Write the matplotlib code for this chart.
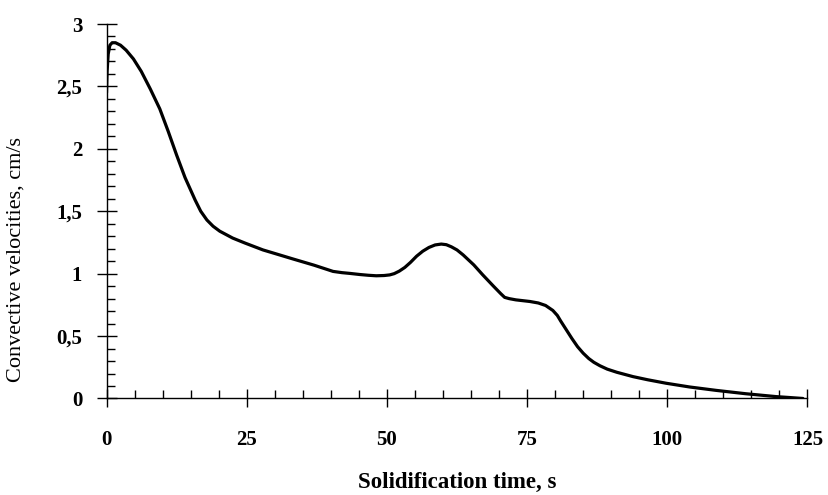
import matplotlib
matplotlib.use("Agg")
import matplotlib.pyplot as plt
from matplotlib.ticker import MultipleLocator, FixedLocator

# Convective velocity during solidification
time_s = [0.0, 0.1, 0.3, 0.6, 1.0, 1.6, 2.5, 3.5, 4.8, 6.2, 7.8, 9.5, 11.0, 12.5,
          14.0, 15.0, 15.8, 16.8, 17.9, 19.0, 20.2, 22.5, 24.7, 27.9, 30.5, 33.3,
          37.0, 40.4, 42.0, 43.4, 45.2, 46.7, 48.1, 49.5, 50.5, 51.3, 52.2, 53.2,
          54.2, 55.3, 56.4, 57.5, 58.6, 59.7, 60.6, 61.5, 62.5, 63.6, 65.5, 67.1,
          69.0, 70.3, 71.0, 71.8, 73.0, 75.5, 77.0, 78.3, 79.6, 80.4, 81.0, 82.0,
          83.0, 84.0, 85.0, 86.0, 86.9, 88.0, 89.3, 91.0, 93.9, 96.5, 99.8,
          104.0, 108.7, 114.0, 119.4, 122.0, 124.2]
velocity = [2.45, 2.62, 2.76, 2.83, 2.85, 2.85, 2.83, 2.79, 2.72, 2.62, 2.48, 2.32,
            2.14, 1.95, 1.77, 1.67, 1.59, 1.50, 1.43, 1.38, 1.34, 1.285, 1.245,
            1.19, 1.155, 1.117, 1.068, 1.018, 1.008, 1.002, 0.993, 0.987, 0.983,
            0.985, 0.99, 1.0, 1.02, 1.05, 1.09, 1.14, 1.18, 1.21, 1.23, 1.237,
            1.232, 1.215, 1.19, 1.15, 1.07, 0.99, 0.90, 0.84, 0.81, 0.80, 0.79,
            0.777, 0.765, 0.745, 0.705, 0.665, 0.62, 0.55, 0.48, 0.415, 0.363,
            0.32, 0.29, 0.262, 0.235, 0.21, 0.175, 0.15, 0.122, 0.092, 0.065,
            0.038, 0.015, 0.007, 0.0]

y_ticks = [0, 0.5, 1, 1.5, 2, 2.5, 3]
y_tick_labels = ["0", "0,5", "1", "1,5", "2", "2,5", "3"]
x_ticks = [0, 25, 50, 75, 100, 125]
x_tick_labels = ["0", "25", "50", "75", "100", "125"]

plt.rcParams["font.family"] = ["Liberation Serif", "DejaVu Serif"]

fig = plt.figure(figsize=(8.29, 4.95), dpi=100)
ax = fig.add_axes([0.1285, 0.195, 0.8455, 0.7565])

ax.plot(time_s, velocity, color="black", lw=2.3, solid_capstyle="round",
        solid_joinstyle="round")

ax.set_xlim(0, 125)
ax.set_ylim(0, 3)
ax.xaxis.set_major_locator(FixedLocator(x_ticks))
ax.yaxis.set_major_locator(FixedLocator(y_ticks))
ax.xaxis.set_minor_locator(MultipleLocator(5))
ax.yaxis.set_minor_locator(MultipleLocator(0.1))
ax.set_xticklabels(x_tick_labels, fontsize=15, fontweight="bold")
ax.set_yticklabels(y_tick_labels, fontsize=15, fontweight="bold")

for side in ("top", "right"):
    ax.spines[side].set_visible(False)
for side in ("left", "bottom"):
    ax.spines[side].set_linewidth(1.0)

ax.tick_params(axis="x", which="major", direction="inout", length=13, width=1.0, pad=16)
ax.tick_params(axis="y", which="major", direction="inout", length=15, width=1.0, pad=10)
ax.tick_params(which="minor", direction="in", length=6, width=1.0)

ax.set_xlabel("Solidification time, s", fontsize=16.5, fontweight="bold", labelpad=16)
ax.set_ylabel("Convective velocities, cm/s", fontsize=16)
ax.yaxis.set_label_coords(-0.116, 0.372)

fig.savefig("out.png", dpi=100, facecolor="white")
